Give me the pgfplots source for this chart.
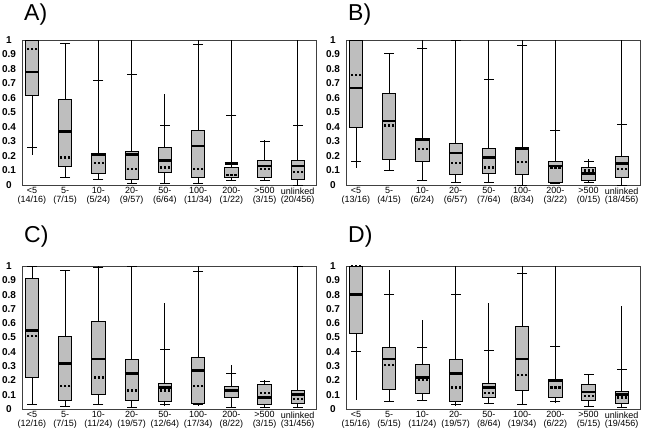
\documentclass[border=0pt]{standalone}
\usepackage{pgfplots}
\pgfplotsset{compat=1.18}
\usepgfplotslibrary{statistics}
\usepackage{pgfplotstable}
\usepackage{fontspec}
\setmainfont{Liberation Sans}
\definecolor{boxgray}{RGB}{190,190,190}

\pgfplotstableread{
x lo p10 q1 med mean q3 p90 hi
0 0.21 0.26 0.62 0.78 0.94 1.00 1.00 1.00
1 0.05 0.05 0.13 0.37 0.19 0.59 0.98 0.98
2 0.04 0.04 0.08 0.21 0.15 0.22 0.72 1.00
3 0.01 0.01 0.04 0.21 0.11 0.23 0.76 1.00
4 0.01 0.01 0.09 0.17 0.12 0.26 0.41 0.63
5 0.01 0.01 0.05 0.27 0.11 0.38 0.97 1.00
6 0.03 0.03 0.05 0.15 0.07 0.12 0.48 1.00
7 0.03 0.03 0.05 0.13 0.11 0.17 0.30 0.31
8 0.00 0.00 0.04 0.13 0.09 0.17 0.41 1.00
}\dataA
\pgfplotstableread{
x lo p10 q1 med mean q3 p90 hi
0 0.12 0.16 0.40 0.67 0.76 1.00 1.00 1.00
1 0.10 0.10 0.18 0.44 0.41 0.63 0.91 0.91
2 0.03 0.03 0.16 0.31 0.25 0.32 0.94 1.00
3 0.02 0.02 0.07 0.22 0.15 0.29 1.00 1.00
4 0.02 0.02 0.08 0.19 0.12 0.25 0.73 1.00
5 0.00 0.00 0.07 0.25 0.16 0.25 0.96 1.00
6 0.01 0.01 0.02 0.13 0.12 0.16 0.38 1.00
7 0.02 0.02 0.03 0.08 0.10 0.12 0.16 0.18
8 0.00 0.00 0.05 0.15 0.11 0.20 0.42 1.00
}\dataB
\pgfplotstableread{
x lo p10 q1 med mean q3 p90 hi
0 0.03 0.03 0.22 0.55 0.51 0.91 1.00 1.00
1 0.02 0.02 0.06 0.32 0.16 0.51 0.97 0.97
2 0.03 0.03 0.10 0.35 0.22 0.61 0.99 1.00
3 0.01 0.01 0.06 0.25 0.13 0.35 1.00 1.00
4 0.02 0.03 0.05 0.15 0.13 0.18 0.42 0.74
5 0.02 0.03 0.04 0.27 0.16 0.36 0.96 1.00
6 0.01 0.01 0.08 0.13 0.13 0.16 0.25 0.31
7 0.01 0.01 0.03 0.08 0.11 0.17 0.19 0.20
8 0.01 0.01 0.04 0.10 0.07 0.13 1.00 1.00
}\dataC
\pgfplotstableread{
x lo p10 q1 med mean q3 p90 hi
0 0.06 0.40 0.53 0.80 1.00 1.00 1.00 1.00
1 0.05 0.05 0.14 0.35 0.31 0.43 0.80 0.97
2 0.06 0.06 0.11 0.22 0.20 0.31 0.43 0.62
3 0.02 0.03 0.05 0.25 0.15 0.35 0.80 1.00
4 0.04 0.04 0.08 0.15 0.11 0.18 0.41 0.74
5 0.03 0.03 0.13 0.35 0.24 0.58 0.95 1.00
6 0.04 0.05 0.08 0.20 0.15 0.21 0.44 1.00
7 0.02 0.02 0.06 0.12 0.09 0.17 0.24 0.24
8 0.01 0.01 0.04 0.10 0.08 0.12 0.28 0.72
}\dataD

\pgfplotsset{panel/.style={
  scale only axis, width=294pt,
  xmin=-0.3, xmax=8.55, ymin=0, ymax=1,
  xtick={0,...,8},
  ytick={0,0.1,0.2,0.3,0.4,0.5,0.6,0.7,0.8,0.9,1},
  major tick length=0pt,
  axis line style={black!75, line width=0.6pt},
  yticklabel style={font=\fontsize{10}{10}\selectfont\bfseries, anchor=center, xshift=-13pt},
  xticklabel style={font=\fontsize{9}{8.7}\selectfont, align=center, inner sep=2.5pt},
  /pgf/number format/assume math mode=true,
  /pgf/number format/fixed,
  clip=false,
},
mybox/.style={black, line width=0.75pt,
  boxplot/draw direction=y,
  boxplot/box extend=0.4, boxplot/whisker extend=0,
  boxplot/every box/.style={draw=black, fill=boxgray},
  boxplot/every median/.style={line width=2.6pt}},
}

\newcommand\boxes[1]{%
  \pgfplotsinvokeforeach{0,...,8}{%
    \pgfplotstablegetelem{##1}{lo}\of#1\let\vlo\pgfplotsretval
    \pgfplotstablegetelem{##1}{q1}\of#1\let\vqa\pgfplotsretval
    \pgfplotstablegetelem{##1}{med}\of#1\let\vmed\pgfplotsretval
    \pgfplotstablegetelem{##1}{q3}\of#1\let\vqb\pgfplotsretval
    \pgfplotstablegetelem{##1}{hi}\of#1\let\vhi\pgfplotsretval
    \edef\doplot{\noexpand\addplot[mybox, boxplot prepared={draw position=##1,
      lower whisker=\vlo, lower quartile=\vqa, median=\vmed,
      upper quartile=\vqb, upper whisker=\vhi}] coordinates {};}%
    \doplot
  }
  \addplot[black, only marks, mark=-, mark size=5.3pt,
    mark options={line width=2.2pt, dash pattern=on 2.2pt off 1.8pt}] table[x=x, y=mean] {#1};
  \addplot[black, only marks, mark=-, mark size=5pt, mark options={line width=0.75pt}] table[x=x, y=p10] {#1};
  \addplot[black, only marks, mark=-, mark size=5pt, mark options={line width=0.75pt}] table[x=x, y=p90] {#1};
}

\begin{document}
\begin{tikzpicture}
\path[use as bounding box] (0,0) rectangle (648pt,-435pt);

\begin{axis}[panel, height=145pt, anchor=north west, at={(22pt,-40pt)},
  xticklabels={{<5\\(14/16)},{5-\\(7/15)},{10-\\(5/24)},{20-\\(9/57)},{50-\\(6/64)},{100-\\(11/34)},{200-\\(1/22)},{>500\\(3/15)},{unlinked\\(20/456)}}]
\boxes{\dataA}
\end{axis}

\begin{axis}[panel, height=145pt, anchor=north west, at={(346pt,-40pt)},
  xticklabels={{<5\\(13/16)},{5-\\(4/15)},{10-\\(6/24)},{20-\\(6/57)},{50-\\(7/64)},{100-\\(8/34)},{200-\\(3/22)},{>500\\(0/15)},{unlinked\\(18/456)}}]
\boxes{\dataB}
\end{axis}

\begin{axis}[panel, height=143pt, anchor=north west, at={(22pt,-266pt)},
  xticklabels={{<5\\(12/16)},{5-\\(7/15)},{10-\\(11/24)},{20-\\(19/57)},{50-\\(12/64)},{100-\\(17/34)},{200-\\(8/22)},{>500\\(3/15)},{unlinked\\(31/456)}}]
\boxes{\dataC}
\end{axis}

\begin{axis}[panel, height=143pt, anchor=north west, at={(346pt,-266pt)},
  xticklabels={{<5\\(15/16)},{5-\\(5/15)},{10-\\(11/24)},{20-\\(19/57)},{50-\\(8/64)},{100-\\(19/34)},{200-\\(6/22)},{>500\\(5/15)},{unlinked\\(19/456)}}]
\boxes{\dataD}
\end{axis}

\node[anchor=north west, inner sep=0pt, font=\fontsize{23}{23}\selectfont] at (24pt,-4pt) {A)};
\node[anchor=north west, inner sep=0pt, font=\fontsize{23}{23}\selectfont] at (348pt,-4pt) {B)};
\node[anchor=north west, inner sep=0pt, font=\fontsize{23}{23}\selectfont] at (24pt,-226pt) {C)};
\node[anchor=north west, inner sep=0pt, font=\fontsize{23}{23}\selectfont] at (348pt,-226pt) {D)};
\end{tikzpicture}
\end{document}
